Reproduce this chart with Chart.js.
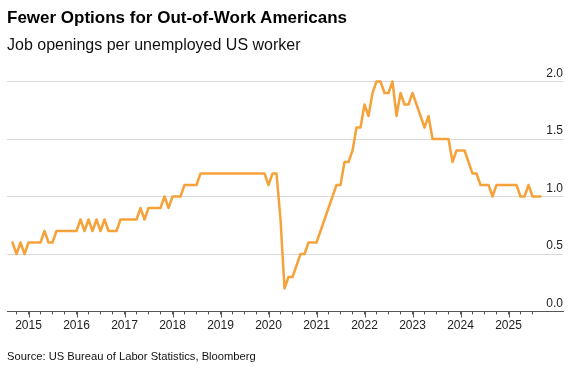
<!DOCTYPE html>
<html><head><meta charset="utf-8">
<script src="https://cdn.jsdelivr.net/npm/chart.js@4"></script>
<style>
html,body{margin:0;padding:0;background:#fff;}
#wrap{position:relative;width:577px;height:377px;overflow:hidden;font-family:"Liberation Sans",Arial,sans-serif;}
#title{position:absolute;left:7px;top:9px;font-size:17px;line-height:1;font-weight:bold;color:#000;white-space:nowrap;}
#subtitle{position:absolute;left:7px;top:37px;font-size:16px;line-height:1;color:#111;white-space:nowrap;}
#source{position:absolute;left:7px;top:351px;font-size:11.2px;line-height:1;color:#111;white-space:nowrap;}
canvas{position:absolute;left:0;top:0;}
</style></head><body>
<div id="wrap">
<canvas id="c" width="577" height="377"></canvas>
<div id="title">Fewer Options for Out-of-Work Americans</div>
<div id="subtitle">Job openings per unemployed US worker</div>
<div id="source">Source: US Bureau of Labor Statistics, Bloomberg</div>
</div>
<script>
// Monthly categories: Sep 2014 .. Sep 2025
const startYear = 2014, startMonth = 9;
const months = [];
for (let i = 0; i < 133; i++) {
  const m = startMonth - 1 + i;
  months.push((startYear + Math.floor(m / 12)) + '-' + String(m % 12 + 1).padStart(2, '0'));
}
const ratio = [
  0.6,0.5,0.6,0.5,
  0.6,0.6,0.6,0.6,0.7,0.6,0.6,0.7,0.7,0.7,0.7,0.7,
  0.7,0.8,0.7,0.8,0.7,0.8,0.7,0.8,0.7,0.7,0.7,0.8,
  0.8,0.8,0.8,0.8,0.9,0.8,0.9,0.9,0.9,0.9,1.0,0.9,
  1.0,1.0,1.0,1.1,1.1,1.1,1.1,1.2,1.2,1.2,1.2,1.2,
  1.2,1.2,1.2,1.2,1.2,1.2,1.2,1.2,1.2,1.2,1.2,1.2,
  1.1,1.2,1.2,0.8,0.2,0.3,0.3,0.4,0.5,0.5,0.6,0.6,
  0.6,0.7,0.8,0.9,1.0,1.1,1.1,1.3,1.3,1.4,1.6,1.6,
  1.8,1.7,1.9,2.0,2.0,1.9,1.9,2.0,1.7,1.9,1.8,1.8,
  1.9,1.8,1.7,1.6,1.7,1.5,1.5,1.5,1.5,1.5,1.3,1.4,
  1.4,1.4,1.3,1.2,1.2,1.1,1.1,1.1,1.0,1.1,1.1,1.1,
  1.1,1.1,1.1,1.0,1.0,1.1,1.0,1.0,1.0
];
const yearLabels = [2015,2016,2017,2018,2019,2020,2021,2022,2023,2024,2025];
const yTicks = [0.0, 0.5, 1.0, 1.5, 2.0];

function monthToX(s) { const [y, m] = s.split('-').map(Number); return y + (m - 1) / 12; }
const points = months.map((mo, i) => ({ x: monthToX(mo), y: ratio[i] }));

// quarterly tick marks from Oct 2014 to Jul 2025
const quarterTicks = [];
for (let v = 2014.75; v <= 2025.5 + 1e-9; v += 0.25) quarterTicks.push(+v.toFixed(2));

const yearTickMarks = {
  id: 'yearTickMarks',
  afterDraw(chart) {
    const xs = chart.scales.x, ctx = chart.ctx, y0 = chart.chartArea.bottom;
    ctx.save();
    ctx.strokeStyle = '#555'; ctx.lineWidth = 1;
    yearLabels.forEach(yr => {
      const px = Math.round(xs.getPixelForValue(yr)) + 0.5;
      ctx.beginPath(); ctx.moveTo(px, y0); ctx.lineTo(px, y0 + 6); ctx.stroke();
    });
    ctx.restore();
  }
};

new Chart(document.getElementById('c'), {
  type: 'line',
  data: { datasets: [{
    data: points, borderColor: '#F6A23A', borderWidth: 2.5, pointRadius: 0,
    tension: 0, borderJoinStyle: 'round', borderCapStyle: 'round', clip: false
  }]},
  options: {
    responsive: false, animation: false, devicePixelRatio: 1,
    layout: { padding: { left: 7, right: 14, top: 81.5, bottom: 35.5 } },
    plugins: { legend: { display: false }, tooltip: { enabled: false } },
    scales: {
      x: {
        type: 'linear', min: 2014.552, max: 2026.135,
        afterBuildTicks: s => { s.ticks = quarterTicks.map(v => ({ value: v })); },
        afterFit: s => { s.height = 30; },
        grid: { display: true, drawOnChartArea: false, drawTicks: true, tickLength: 3, tickColor: '#555', tickWidth: 1 },
        border: { display: true, color: '#555', width: 1 },
        ticks: {
          autoSkip: false, maxRotation: 0, padding: 4, color: '#222',
          font: { family: '"Liberation Sans", Arial, sans-serif', size: 12 },
          callback: v => (yearLabels.includes(v) ? String(v) : '')
        }
      },
      y: {
        position: 'right', min: 0, max: 2,
        afterBuildTicks: s => { s.ticks = yTicks.map(v => ({ value: v })); },
        afterFit: s => { s.width = 0; },
        grid: { color: '#d9d9d9', lineWidth: 1, drawTicks: false },
        border: { display: false },
        ticks: {
          mirror: true, padding: 0, labelOffset: -8, color: '#222',
          font: { family: '"Liberation Sans", Arial, sans-serif', size: 12 },
          callback: v => v.toFixed(1)
        }
      }
    }
  },
  plugins: [yearTickMarks]
});
</script>
</body></html>
